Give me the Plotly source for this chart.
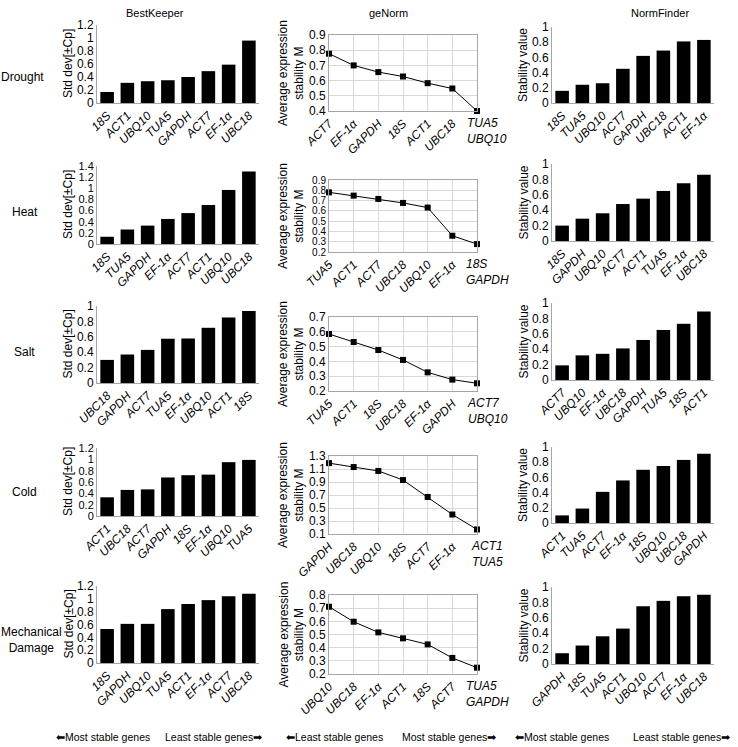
import plotly.graph_objects as go

W, H = 738, 747
FONT = "Liberation Sans, Arial, sans-serif"

# ---------------- data ----------------
conditions = ["Drought", "Heat", "Salt", "Cold", "Mechanical<br>Damage"]
methods = ["BestKeeper", "geNorm", "NormFinder"]

bk_genes_drought = ["18S", "ACT1", "UBQ10", "TUA5", "GAPDH", "ACT7", "EF-1α", "UBC18"]
bk_vals_drought = [0.17, 0.31, 0.335, 0.35, 0.40, 0.49, 0.59, 0.96]
bk_genes_heat = ["18S", "TUA5", "GAPDH", "EF-1α", "ACT7", "ACT1", "UBQ10", "UBC18"]
bk_vals_heat = [0.13, 0.26, 0.33, 0.45, 0.555, 0.70, 0.97, 1.30]
bk_genes_salt = ["UBC18", "GAPDH", "ACT7", "TUA5", "EF-1α", "UBQ10", "ACT1", "18S"]
bk_vals_salt = [0.30, 0.37, 0.43, 0.575, 0.578, 0.717, 0.85, 0.935]
bk_genes_cold = ["ACT1", "UBC18", "ACT7", "GAPDH", "18S", "EF-1α", "UBQ10", "TUA5"]
bk_vals_cold = [0.33, 0.46, 0.47, 0.68, 0.72, 0.73, 0.95, 0.99]
bk_genes_mech = ["18S", "GAPDH", "UBQ10", "TUA5", "ACT1", "EF-1α", "ACT7", "UBC18"]
bk_vals_mech = [0.53, 0.61, 0.61, 0.84, 0.92, 0.98, 1.04, 1.08]
bk_ymax = [1.2, 1.4, 1.0, 1.2, 1.2]

gn_genes_drought = ["ACT7", "EF-1α", "GAPDH", "18S", "ACT1", "UBC18", "TUA5<br>UBQ10"]
gn_vals_drought = [0.777, 0.70, 0.656, 0.627, 0.583, 0.548, 0.40]
gn_genes_heat = ["TUA5", "ACT1", "ACT7", "UBC18", "UBQ10", "EF-1α", "18S<br>GAPDH"]
gn_vals_heat = [0.78, 0.748, 0.716, 0.677, 0.632, 0.358, 0.277]
gn_genes_salt = ["TUA5", "ACT1", "18S", "UBC18", "EF-1α", "GAPDH", "ACT7<br>UBQ10"]
gn_vals_salt = [0.585, 0.531, 0.477, 0.41, 0.326, 0.277, 0.252]
gn_genes_cold = ["GAPDH", "UBC18", "UBQ10", "18S", "ACT7", "EF-1α", "ACT1<br>TUA5"]
gn_vals_cold = [1.19, 1.13, 1.07, 0.93, 0.67, 0.40, 0.17]
gn_genes_mech = ["UBQ10", "UBC18", "EF-1α", "ACT1", "18S", "ACT7", "TUA5<br>GAPDH"]
gn_vals_mech = [0.711, 0.597, 0.516, 0.471, 0.425, 0.322, 0.248]
gn_yrange = [(0.4, 0.9, 0.1), (0.2, 0.9, 0.1), (0.2, 0.7, 0.1), (0.1, 1.3, 0.2), (0.2, 0.8, 0.1)]

nf_genes_drought = ["18S", "TUA5", "UBQ10", "ACT7", "GAPDH", "UBC18", "ACT1", "EF-1α"]
nf_vals_drought = [0.16, 0.24, 0.26, 0.45, 0.62, 0.69, 0.81, 0.83]
nf_genes_heat = ["18S", "GAPDH", "UBQ10", "ACT7", "ACT1", "TUA5", "EF-1α", "UBC18"]
nf_vals_heat = [0.20, 0.29, 0.36, 0.48, 0.55, 0.65, 0.75, 0.86]
nf_genes_salt = ["ACT7", "UBQ10", "EF-1α", "UBC18", "GAPDH", "TUA5", "18S", "ACT1"]
nf_vals_salt = [0.19, 0.32, 0.34, 0.41, 0.52, 0.65, 0.73, 0.89]
nf_genes_cold = ["ACT1", "TUA5", "ACT7", "EF-1α", "18S", "UBQ10", "UBC18", "GAPDH"]
nf_vals_cold = [0.10, 0.19, 0.41, 0.56, 0.70, 0.75, 0.83, 0.91]
nf_genes_mech = ["GAPDH", "18S", "TUA5", "ACT1", "UBQ10", "ACT7", "EF-1α", "UBC18"]
nf_vals_mech = [0.14, 0.24, 0.36, 0.46, 0.75, 0.82, 0.88, 0.90]

bottom_labels = ["⬅Most stable genes", "Least stable genes➡",
                 "⬅Least stable genes", "Most stable genes➡",
                 "⬅Most stable genes", "Least stable genes➡"]

bk = [(bk_genes_drought, bk_vals_drought), (bk_genes_heat, bk_vals_heat),
      (bk_genes_salt, bk_vals_salt), (bk_genes_cold, bk_vals_cold),
      (bk_genes_mech, bk_vals_mech)]
gn = [(gn_genes_drought, gn_vals_drought), (gn_genes_heat, gn_vals_heat),
      (gn_genes_salt, gn_vals_salt), (gn_genes_cold, gn_vals_cold),
      (gn_genes_mech, gn_vals_mech)]
nf = [(nf_genes_drought, nf_vals_drought), (nf_genes_heat, nf_vals_heat),
      (nf_genes_salt, nf_vals_salt), (nf_genes_cold, nf_vals_cold),
      (nf_genes_mech, nf_vals_mech)]

# ---------------- layout geometry (pixels) ----------------
col_x = [(97, 259), (329, 477), (552, 714)]
row_y = [
    [(25, 103), (166, 244), (306, 383), (448, 516), (586, 663)],   # BestKeeper
    [(35, 111), (180, 252), (317, 391), (456, 534), (595, 674)],   # geNorm
    [(27, 103), (164, 241), (303, 380), (447, 523), (587, 664)],   # NormFinder
]
row_label_pos = [(22, 77), (25, 212), (25, 352), (25, 492), (31, 640)]
title_pos = [(155, 13), (388, 13), (660, 13)]
ytitle_x = [68, 291, 523]
ytitles = ["Std dev[±Cp]", "Average expression<br>stability M", "Stability value"]
bottom_x = [103, 213, 334, 449, 562, 681]
bottom_y = 737


def fx(p):
    return p / W


def fy(p):
    return 1 - p / H


def tick_size(spacing):
    if spacing < 11:
        return 10
    if spacing < 12:
        return 11
    return 12


fig = go.Figure()
layout = {}
annotations = []
AXC = "#a6a6a6"
GRID = "#d9d9d9"
tickfont_it = dict(family=FONT, size=12, color="black", style="italic")

for r in range(5):
    for c in range(3):
        idx = r * 3 + c + 1
        xa, ya = f"xaxis{idx}", f"yaxis{idx}"
        xr, yr = f"x{idx}", f"y{idx}"
        top, bot = row_y[c][r]
        left, right = col_x[c]
        if c in (0, 2):
            genes, vals = (bk if c == 0 else nf)[r]
            fig.add_trace(go.Bar(x=genes, y=vals, xaxis=xr, yaxis=yr,
                                 marker=dict(color="black", line=dict(width=0)),
                                 showlegend=False, hoverinfo="skip"))
            ymax = bk_ymax[r] if c == 0 else 1.0
            ysize = tick_size((bot - top) / (ymax / 0.2))
            layout[xa] = dict(domain=[fx(left), fx(right)], anchor=yr, type="category",
                              range=[-0.5, 7.5], showline=True, linecolor=AXC, linewidth=1,
                              showgrid=False, ticks="", tickangle=-45, tickfont=tickfont_it,
                              zeroline=False, automargin=False, fixedrange=True)
            layout[ya] = dict(domain=[fy(bot), fy(top)], anchor=xr, range=[0, ymax],
                              dtick=0.2, tick0=0, showline=True, linecolor=AXC, linewidth=1,
                              showgrid=False, ticks="",
                              tickfont=dict(family=FONT, size=ysize, color="black"),
                              zeroline=False, automargin=False, fixedrange=True)
        else:
            genes, vals = gn[r]
            xs = list(range(len(genes)))
            fig.add_trace(go.Scatter(x=xs, y=vals, xaxis=xr, yaxis=yr, mode="lines+markers",
                                     line=dict(color="black", width=1),
                                     marker=dict(symbol="square", size=6, color="black"),
                                     cliponaxis=False, showlegend=False, hoverinfo="skip"))
            y0, y1, dt = gn_yrange[r]
            ysize = tick_size((bot - top) / round((y1 - y0) / dt))
            layout[xa] = dict(domain=[fx(left), fx(right)], anchor=yr,
                              range=[0, len(genes) - 1], tickvals=xs,
                              ticktext=genes[:-1] + [""], showline=True, mirror=True,
                              linecolor=AXC, linewidth=1, showgrid=True, gridcolor=GRID,
                              gridwidth=1, ticks="", tickangle=-45, tickfont=tickfont_it,
                              zeroline=False, automargin=False, fixedrange=True)
            layout[ya] = dict(domain=[fy(bot), fy(top)], anchor=xr, range=[y0, y1],
                              dtick=dt, tick0=y0, showline=True, mirror=True,
                              linecolor=AXC, linewidth=1, showgrid=True, gridcolor=GRID,
                              gridwidth=1, ticks="",
                              tickfont=dict(family=FONT, size=ysize, color="black"),
                              zeroline=False, automargin=False, fixedrange=True)
            annotations.append(dict(x=len(genes) - 1, y=fy(bot + 3), xref=xr, yref="paper",
                                    text=genes[-1], showarrow=False, xanchor="center",
                                    yanchor="top", xshift=10, align="left",
                                    font=dict(family=FONT, size=12, color="black",
                                              style="italic")))
        # y axis title
        annotations.append(dict(x=fx(ytitle_x[c]), y=fy((top + bot) / 2), xref="paper",
                                yref="paper", text=ytitles[c], textangle=-90,
                                showarrow=False, xanchor="center", yanchor="middle",
                                font=dict(family=FONT, size=12, color="black")))

for r, (lx, ly) in enumerate(row_label_pos):
    annotations.append(dict(x=fx(lx), y=fy(ly), xref="paper", yref="paper",
                            text=conditions[r], showarrow=False, xanchor="center",
                            yanchor="middle",
                            font=dict(family=FONT, size=12, color="black")))

for c, (tx, ty) in enumerate(title_pos):
    annotations.append(dict(x=fx(tx), y=fy(ty), xref="paper", yref="paper",
                            text=methods[c], showarrow=False, xanchor="center",
                            yanchor="middle",
                            font=dict(family=FONT, size=11, color="black")))

for i, bx in enumerate(bottom_x):
    annotations.append(dict(x=fx(bx), y=fy(bottom_y), xref="paper", yref="paper",
                            text=bottom_labels[i], showarrow=False, xanchor="center",
                            yanchor="middle",
                            font=dict(family=FONT, size=10.5, color="black")))

fig.update_layout(width=W, height=H, margin=dict(l=0, r=0, t=0, b=0, autoexpand=False),
                  paper_bgcolor="white", plot_bgcolor="white", hovermode=False,
                  bargap=0.33, annotations=annotations, **layout)

fig.write_html("out.html",
               config={"displayModeBar": False, "staticPlot": True},
               post_script="document.body.style.margin='0';"
                           "document.body.style.overflow='hidden';")
